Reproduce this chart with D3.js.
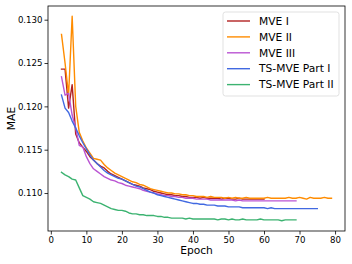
<!DOCTYPE html>
<html>
<head>
<meta charset="utf-8">
<script src="https://cdn.jsdelivr.net/npm/d3@7"></script>
<style>
  html, body { margin: 0; padding: 0; background: #fff; }
  svg { display: block; font-family: "DejaVu Sans", sans-serif; }
</style>
</head>
<body>
<div id="chart"></div>
<script>
"use strict";

// first epoch of every run
var START_EPOCH = 3;

var seriesNames = ["MVE I", "MVE II", "MVE III", "TS-MVE Part I", "TS-MVE Part II"];
var seriesColors = ["#b22222", "#ff8c00", "#ba55d3", "#4169e1", "#3cb371"];

// MAE per epoch, starting at epoch 3
var mve1 = [
  0.1243, 0.1243, 0.1198, 0.1225, 0.1168, 0.1158, 0.1153, 0.1148, 0.1142, 0.1138,
  0.1134, 0.1131, 0.1129, 0.1125, 0.1122, 0.1120, 0.1118, 0.1116, 0.1114, 0.1112,
  0.1110, 0.1109, 0.1108, 0.1106, 0.1105, 0.1104, 0.1102, 0.1101, 0.1100, 0.1099,
  0.1098, 0.1098, 0.1097, 0.1097, 0.1096, 0.1096, 0.1095, 0.1095, 0.1095, 0.1094,
  0.1095, 0.1094, 0.1094, 0.1094, 0.1094, 0.1093, 0.1094, 0.1094, 0.1093, 0.1093,
  0.1094, 0.1093, 0.1093, 0.1093, 0.1093, 0.1093, 0.1093, 0.1093
];
var mve2 = [
  0.1283, 0.1250, 0.1213, 0.1304, 0.1200, 0.1170, 0.1160, 0.1152, 0.1146, 0.1140,
  0.1139, 0.1138, 0.1133, 0.1129, 0.1126, 0.1123, 0.1121, 0.1119, 0.1117, 0.1115,
  0.1113, 0.1112, 0.1110, 0.1109, 0.1107, 0.1105, 0.1104, 0.1103, 0.1102, 0.1101,
  0.1100, 0.1100, 0.1099, 0.1099, 0.1098, 0.1098, 0.1097, 0.1097, 0.1096, 0.1096,
  0.1096, 0.1095, 0.1096, 0.1095, 0.1095, 0.1095, 0.1094, 0.1095, 0.1094, 0.1095,
  0.1094, 0.1094, 0.1095, 0.1094, 0.1094, 0.1094, 0.1094, 0.1094, 0.1095, 0.1094,
  0.1094, 0.1094, 0.1094, 0.1094, 0.1095, 0.1094, 0.1094, 0.1095, 0.1094, 0.1093,
  0.1095, 0.1094, 0.1094, 0.1094, 0.1095, 0.1094, 0.1094
];
var mve3 = [
  0.1234, 0.1213, 0.1215, 0.1190, 0.1175, 0.1155, 0.1153, 0.1142, 0.1134, 0.1128,
  0.1125, 0.1122, 0.1119, 0.1117, 0.1115, 0.1114, 0.1112, 0.1111, 0.1109, 0.1108,
  0.1107, 0.1106, 0.1105, 0.1103, 0.1102, 0.1101, 0.1100, 0.1099, 0.1098, 0.1097,
  0.1097, 0.1096, 0.1096, 0.1095, 0.1095, 0.1094, 0.1094, 0.1094, 0.1093, 0.1093,
  0.1093, 0.1093, 0.1092, 0.1092, 0.1092, 0.1092, 0.1092, 0.1092, 0.1092, 0.1091,
  0.1092, 0.1091, 0.1091, 0.1091, 0.1091, 0.1091, 0.1091, 0.1091, 0.1091, 0.1091,
  0.1091, 0.1091, 0.1091, 0.1091, 0.1091, 0.1091, 0.1091
];
var tsPart1 = [
  0.1213, 0.1198, 0.1193, 0.1183, 0.1175, 0.1166, 0.1158, 0.1151, 0.1144, 0.1138,
  0.1134, 0.1130, 0.1126, 0.1123, 0.1121, 0.1119, 0.1117, 0.1116, 0.1114, 0.1112,
  0.1110, 0.1108, 0.1107, 0.1105, 0.1103, 0.1101, 0.1100, 0.1098, 0.1097, 0.1096,
  0.1095, 0.1094, 0.1093, 0.1092, 0.1091, 0.1090, 0.1089, 0.1088, 0.1088, 0.1087,
  0.1087, 0.1086, 0.1086, 0.1086, 0.1085, 0.1085, 0.1085, 0.1084, 0.1084, 0.1084,
  0.1084, 0.1083, 0.1083, 0.1083, 0.1083, 0.1083, 0.1083, 0.1083, 0.1082, 0.1083,
  0.1082, 0.1082, 0.1082, 0.1082, 0.1082, 0.1082, 0.1082, 0.1082, 0.1082, 0.1082,
  0.1082, 0.1082, 0.1082
];
var tsPart2 = [
  0.1124, 0.1121, 0.1119, 0.1116, 0.1115, 0.1106, 0.1097, 0.1095, 0.1093, 0.1090,
  0.1089, 0.1088, 0.1086, 0.1084, 0.1082, 0.1081, 0.1080, 0.1080, 0.1079, 0.1077,
  0.1076, 0.1076, 0.1075, 0.1075, 0.1074, 0.1074, 0.1074, 0.1073, 0.1073, 0.1072,
  0.1072, 0.1071, 0.1071, 0.1071, 0.1071, 0.1070, 0.1071, 0.1070, 0.1070, 0.1070,
  0.1070, 0.1070, 0.1070, 0.1070, 0.1069, 0.1070, 0.1070, 0.1069, 0.1070, 0.1069,
  0.1069, 0.1070, 0.1069, 0.1069, 0.1069, 0.1069, 0.1070, 0.1069, 0.1069, 0.1069,
  0.1069, 0.1069, 0.1068, 0.1069, 0.1069, 0.1069, 0.1069
];

var xTicks = [0, 10, 20, 30, 40, 50, 60, 70, 80];
var yTicks = [0.110, 0.115, 0.120, 0.125, 0.130];

var W = 352, H = 264;
var margin = { left: 48, right: 7, top: 6, bottom: 33 };

var allSeries = [mve1, mve2, mve3, tsPart1, tsPart2];

var svg = d3.select("#chart").append("svg")
  .attr("width", W)
  .attr("height", H);

// matplotlib style 5% padding around the data
var maxEpoch = d3.max(allSeries, function (s) { return START_EPOCH + s.length - 1; });
var yMin = d3.min(allSeries, function (s) { return d3.min(s); });
var yMax = d3.max(allSeries, function (s) { return d3.max(s); });
var xPad = (maxEpoch - START_EPOCH) * 0.05;
var yPad = (yMax - yMin) * 0.05;

var x = d3.scaleLinear()
  .domain([START_EPOCH - xPad, maxEpoch + xPad])
  .range([margin.left, W - margin.right]);
var y = d3.scaleLinear()
  .domain([yMin - yPad, yMax + yPad])
  .range([H - margin.bottom, margin.top]);

var line = d3.line()
  .x(function (d, i) { return x(START_EPOCH + i); })
  .y(function (d) { return y(d); });

// Lines
svg.append("g")
  .selectAll("path")
  .data(allSeries)
  .enter()
  .append("path")
  .attr("fill", "none")
  .attr("stroke", function (d, i) { return seriesColors[i]; })
  .attr("stroke-width", 1.4)
  .attr("stroke-linejoin", "round")
  .attr("stroke-linecap", "square")
  .attr("d", line);

// Axes
var xAxis = svg.append("g")
  .attr("transform", "translate(0," + (H - margin.bottom) + ")")
  .call(d3.axisBottom(x).tickValues(xTicks).tickSize(3.5).tickPadding(2).tickFormat(d3.format("d")));
var yAxis = svg.append("g")
  .attr("transform", "translate(" + margin.left + ",0)")
  .call(d3.axisLeft(y).tickValues(yTicks).tickSize(3.5).tickPadding(2).tickFormat(d3.format(".3f")));

[xAxis, yAxis].forEach(function (g) {
  g.select(".domain").remove();
  g.selectAll(".tick line").attr("stroke", "#000").attr("stroke-width", 0.8);
  g.selectAll(".tick text").attr("fill", "#000").style("font-size", "8.6px").style("font-family", "DejaVu Sans");
});

// frame
svg.append("rect")
  .attr("x", margin.left)
  .attr("y", margin.top)
  .attr("width", W - margin.left - margin.right)
  .attr("height", H - margin.top - margin.bottom)
  .attr("fill", "none")
  .attr("stroke", "#000")
  .attr("stroke-width", 0.8);

// Axis labels
svg.append("text")
  .attr("x", (margin.left + W - margin.right) / 2)
  .attr("y", 254)
  .attr("text-anchor", "middle")
  .style("font-size", "10.7px")
  .text("Epoch");
svg.append("text")
  .attr("transform", "translate(15," + ((margin.top + H - margin.bottom) / 2) + ") rotate(-90)")
  .attr("text-anchor", "middle")
  .style("font-size", "10.7px")
  .text("MAE");

// Legend
var legend = svg.append("g").attr("transform", "translate(223,12)");
legend.append("rect")
  .attr("width", 116)
  .attr("height", 84)
  .attr("rx", 2.5)
  .attr("fill", "#fff")
  .attr("fill-opacity", 0.8)
  .attr("stroke", "#d9d9d9")
  .attr("stroke-width", 0.8);

var items = legend.selectAll("g.item")
  .data(seriesNames)
  .enter()
  .append("g")
  .attr("class", "item")
  .attr("transform", function (d, i) { return "translate(0," + (9 + i * 15.9) + ")"; });
items.append("line")
  .attr("x1", 4).attr("x2", 27)
  .attr("stroke", function (d, i) { return seriesColors[i]; })
  .attr("stroke-width", 1.4);
items.append("text")
  .attr("x", 36)
  .attr("dy", "0.35em")
  .style("font-size", "10.7px")
  .text(function (d) { return d; });
</script>
</body>
</html>
